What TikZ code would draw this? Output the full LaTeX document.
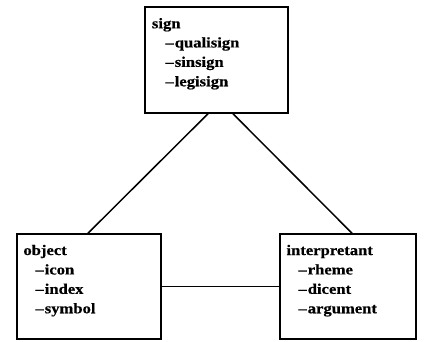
\documentclass[tikz,border=0pt]{standalone}
\usepackage{fontspec}
\setmainfont{Liberation Serif}
\newfontfamily\reffont[FakeStretch=1.13,FakeBold=0.5]{Liberation Serif}
\begin{document}
\begin{tikzpicture}[x=1pt,y=1pt,
  box/.style={draw,line width=1.5pt,rectangle,inner sep=0pt},
  conn/.style={line width=1.5pt},
  txt/.style={anchor=base west,inner sep=0pt,font=\reffont\fontsize{14.7}{17}\selectfont\bfseries}]
\useasboundingbox (0,0) rectangle (430,341);
\node[box,minimum width=143pt,minimum height=106pt] (sign) at (216.5,281) {};
\node[box,minimum width=144pt,minimum height=105pt] (obj) at (89,54.5) {};
\node[box,minimum width=136pt,minimum height=105pt] (interp) at (348,54.5) {};
% sign box text
\node[txt] (s0) at ([shift={(7.5,-22)}]sign.north west) {sign};
\node[txt] (s1) at ([shift={(21,-41.2)}]sign.north west) {–\kern1pt qualisign};
\node[txt] (s2) at ([shift={(21,-60.6)}]sign.north west) {–\kern1pt sinsign};
\node[txt] (s3) at ([shift={(21,-80)}]sign.north west) {–\kern1pt legisign};
% object box text
\node[txt] (o0) at ([shift={(7,-21.8)}]obj.north west) {object};
\node[txt] (o1) at ([shift={(19,-41.2)}]obj.north west) {–\kern1pt icon};
\node[txt] (o2) at ([shift={(19,-60.6)}]obj.north west) {–\kern1pt index};
\node[txt] (o3) at ([shift={(19,-80)}]obj.north west) {–\kern1pt symbol};
% interpretant box text
\node[txt] (i0) at ([shift={(7,-21.8)}]interp.north west) {interpretant};
\node[txt] (i1) at ([shift={(19,-41.2)}]interp.north west) {–\kern1pt rheme};
\node[txt] (i2) at ([shift={(19,-60.6)}]interp.north west) {–\kern1pt dicent};
\node[txt] (i3) at ([shift={(19,-80)}]interp.north west) {–\kern1pt argument};
% connectors
\draw[conn] ([xshift=-8.5pt]sign.south) -- ([xshift=-1pt]obj.north);
\draw[conn] ([xshift=16.5pt]sign.south) -- ([xshift=4pt]interp.north);
\draw[conn] (obj.east) -- (interp.west);
\end{tikzpicture}
\end{document}
